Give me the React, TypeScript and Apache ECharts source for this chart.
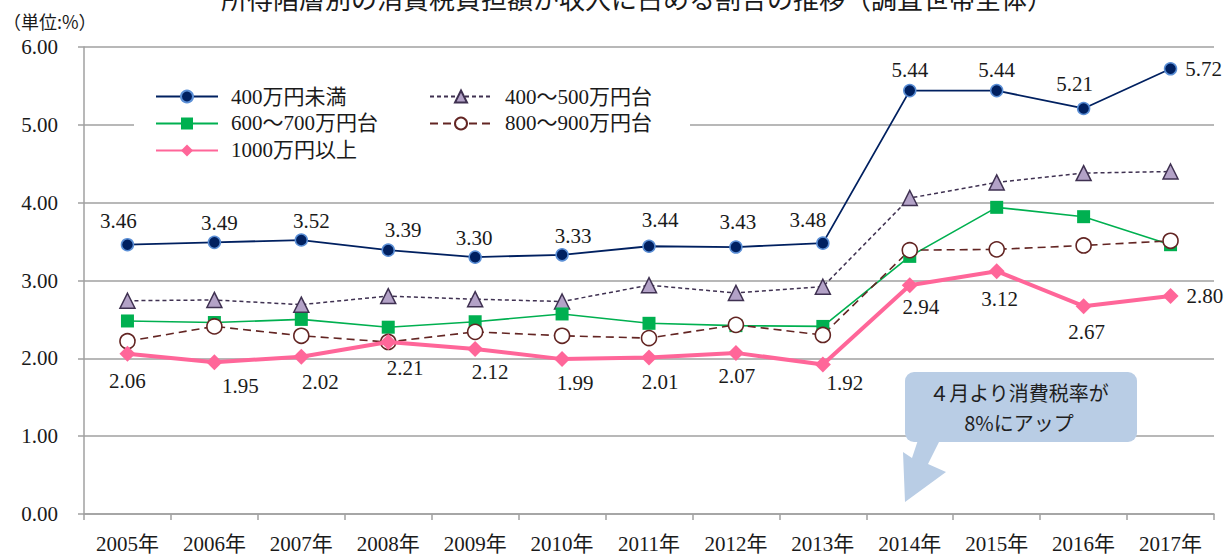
import React, { useEffect, useRef } from "react";
import * as echarts from "echarts";

const years = ["2005年", "2006年", "2007年", "2008年", "2009年", "2010年", "2011年", "2012年", "2013年", "2014年", "2015年", "2016年", "2017年"];
const seriesNames = ["400万円未満", "400〜500万円台", "600〜700万円台", "800〜900万円台", "1000万円以上"];
const under400 = [3.46, 3.49, 3.52, 3.39, 3.30, 3.33, 3.44, 3.43, 3.48, 5.44, 5.44, 5.21, 5.72];
const r400to500 = [2.74, 2.75, 2.69, 2.80, 2.76, 2.73, 2.94, 2.84, 2.92, 4.06, 4.26, 4.38, 4.40];
const r600to700 = [2.48, 2.46, 2.50, 2.40, 2.47, 2.57, 2.45, 2.42, 2.41, 3.31, 3.94, 3.82, 3.46];
const r800to900 = [2.22, 2.41, 2.29, 2.21, 2.34, 2.29, 2.26, 2.43, 2.30, 3.39, 3.40, 3.45, 3.51];
const over1000 = [2.06, 1.95, 2.02, 2.21, 2.12, 1.99, 2.01, 2.07, 1.92, 2.94, 3.12, 2.67, 2.80];
const yTicks = [0, 1, 2, 3, 4, 5, 6];
const unitText = "（単位:%）";
const titleText = "所得階層別の消費税負担額が収入に占める割合の推移（調査世帯全体）";
const noteLines = ["４月より消費税率が", "8%にアップ"];

// label placement tweaks (styling)
const navyLabelOffsets: [number, number][] = [[-9, -1], [5, 3], [10, 3], [15, 2], [-1, 3], [11, 3], [11, -4], [2, -3], [-15, -1], [0, 2], [0, 2], [-9, -2], [0, 0]];
const pinkLabelOffsets: [number, number][] = [[0, 4], [26, 0], [19, 2], [17, 3], [15, 0], [13, 0], [11, 1], [1, 0], [22, -5], [11, -2], [3, 4], [3, 2], [0, 0]];

const SERIF = "'Liberation Serif', 'DejaVu Serif', 'Noto Sans CJK JP', serif";
const SANS = "'Noto Sans CJK JP', 'Noto Sans', sans-serif";

export default function App() {
  const ref = useRef<HTMLDivElement>(null);
  useEffect(() => {
    if (!ref.current) return;
    const chart = echarts.init(ref.current, null, { renderer: "svg" });
    const labelFont = { fontFamily: SERIF, fontSize: 21, color: "#1a1a1a" };
    const navyData = under400.map((v, i) => {
      const last = i === under400.length - 1;
      return {
        value: v,
        label: last
          ? { position: "right", distance: 8, offset: [0, 0] }
          : { position: "top", offset: navyLabelOffsets[i] },
      };
    });
    const pinkData = over1000.map((v, i) => {
      const last = i === over1000.length - 1;
      return {
        value: v,
        label: last
          ? { position: "right", distance: 8, offset: [0, 0] }
          : { position: "bottom", offset: pinkLabelOffsets[i] },
      };
    });
    const legendText = { fontFamily: SERIF, fontSize: 21, color: "#1a1a1a", padding: [0, 0, 0, 8] };
    const option: any = {
      animation: false,
      backgroundColor: "#ffffff",
      grid: { left: 84, right: 12, top: 47, bottom: 40 },
      xAxis: {
        type: "category",
        data: years,
        boundaryGap: true,
        axisLine: { lineStyle: { color: "#a0a0a0", width: 1.5 } },
        axisTick: { show: true, length: 6, lineStyle: { color: "#a0a0a0", width: 1.5 } },
        axisLabel: { margin: 19, fontFamily: SERIF, fontSize: 21, color: "#1a1a1a" },
      },
      yAxis: {
        type: "value",
        min: yTicks[0],
        max: yTicks[yTicks.length - 1],
        interval: 1,
        axisLine: { show: true, lineStyle: { color: "#a0a0a0", width: 1.5 } },
        axisTick: { show: true, length: 6, lineStyle: { color: "#a0a0a0", width: 1.5 } },
        axisLabel: { margin: 26, fontFamily: SERIF, fontSize: 21, color: "#1a1a1a", formatter: (v: number) => v.toFixed(2) },
        splitLine: { lineStyle: { color: "#a0a0a0", width: 1.5 } },
      },
      legend: [
        {
          data: [seriesNames[0], seriesNames[2], seriesNames[4]],
          orient: "vertical",
          left: 150,
          top: 81,
          itemWidth: 62,
          itemHeight: 15,
          itemGap: 6,
          textStyle: legendText,
          z: 10,
        },
        {
          data: [seriesNames[1], seriesNames[3]],
          orient: "vertical",
          left: 424,
          top: 81,
          itemWidth: 62,
          itemHeight: 15,
          itemGap: 6,
          textStyle: legendText,
          z: 10,
        },
      ],
      graphic: [
        { type: "rect", z: 5, shape: { x: 134, y: 78, width: 556, height: 86 }, style: { fill: "#ffffff" } },
        {
          type: "text",
          z: 10,
          x: 637,
          y: -3,
          style: { text: titleText, fontFamily: SANS, fontSize: 26, fill: "#1a1a1a", align: "center", verticalAlign: "middle" },
        },
        {
          type: "text",
          z: 10,
          x: 3,
          y: 21,
          style: { text: unitText, fontFamily: SANS, fontSize: 18, fill: "#1a1a1a", align: "left", verticalAlign: "middle" },
        },
        {
          type: "polygon",
          z: 10,
          shape: { points: [[918, 440], [940, 440], [928, 464], [946, 472], [905, 502], [903, 452], [912, 458]] },
          style: { fill: "#b9cde5" },
        },
        { type: "rect", z: 10, shape: { x: 905, y: 372, width: 232, height: 70, r: 9 }, style: { fill: "#b9cde5" } },
        {
          type: "text",
          z: 11,
          x: 1019,
          y: 392,
          style: { text: noteLines[0], fontFamily: SANS, fontSize: 20, fill: "#1f1f1f", align: "center", verticalAlign: "middle" },
        },
        {
          type: "text",
          z: 11,
          x: 1019,
          y: 422,
          style: { text: noteLines[1], fontFamily: SANS, fontSize: 20, fill: "#1f1f1f", align: "center", verticalAlign: "middle" },
        },
      ],
      series: [
        {
          name: seriesNames[0],
          type: "line",
          data: navyData,
          symbol: "circle",
          symbolSize: 12,
          lineStyle: { color: "#002060", width: 1.8 },
          itemStyle: { color: "#002060", borderColor: "#5b8fd6", borderWidth: 1.5 },
          label: { show: true, ...labelFont, formatter: (p: any) => p.value.toFixed(2) },
          z: 3,
        },
        {
          name: seriesNames[1],
          type: "line",
          data: r400to500,
          symbol: "triangle",
          symbolSize: 15,
          lineStyle: { color: "#3f3151", width: 1.5, type: [4, 3] },
          itemStyle: { color: "#b3a2c7", borderColor: "#3f3151", borderWidth: 1.5 },
          z: 3,
        },
        {
          name: seriesNames[2],
          type: "line",
          data: r600to700,
          symbol: "rect",
          symbolSize: 13,
          lineStyle: { color: "#00b050", width: 1.6 },
          itemStyle: { color: "#00b050", borderWidth: 0 },
          z: 3,
        },
        {
          name: seriesNames[3],
          type: "line",
          data: r800to900,
          symbol: "circle",
          symbolSize: 15,
          lineStyle: { color: "#632523", width: 1.6, type: [8, 5] },
          itemStyle: { color: "#ffffff", borderColor: "#632523", borderWidth: 1.6 },
          z: 3,
        },
        {
          name: seriesNames[4],
          type: "line",
          data: pinkData,
          symbol: "diamond",
          symbolSize: 16,
          lineStyle: { color: "#ff6699", width: 4 },
          itemStyle: { color: "#ff6699", borderWidth: 0 },
          label: { show: true, ...labelFont, formatter: (p: any) => p.value.toFixed(2) },
          z: 4,
        },
      ],
    };
    chart.setOption(option);
    return () => chart.dispose();
  }, []);
  return <div ref={ref} style={{ position: "absolute", left: 0, top: 0, width: 1226, height: 554 }} />;
}
